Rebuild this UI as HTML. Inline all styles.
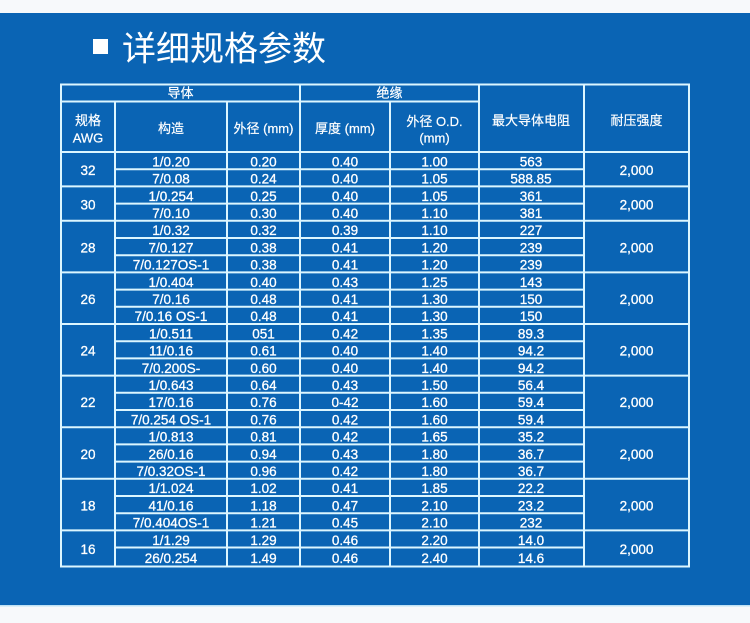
<!DOCTYPE html>
<html>
<head>
<meta charset="utf-8">
<style>
html,body{margin:0;padding:0;background:#f7f9fb;}
svg{display:block;}
.t{fill:#fff;stroke:#fff;stroke-width:0.3px;font-family:"Liberation Sans","Noto Sans CJK SC",sans-serif;font-size:13.5px;text-anchor:middle;}
.h{fill:#fff;stroke:#fff;stroke-width:0.2px;font-family:"Liberation Sans","Noto Sans CJK SC",sans-serif;font-size:13px;text-anchor:middle;}
</style>
</head>
<body>
<svg width="750" height="623" viewBox="0 0 750 623" xmlns="http://www.w3.org/2000/svg">
<rect x="0" y="0" width="750" height="623" fill="#f7f9fb"/>
<rect x="0" y="13" width="750" height="593" fill="#0a64b4"/>
<rect x="0" y="605" width="750" height="1.5" fill="#bfe2f5"/>
<rect x="93" y="39" width="15" height="15" fill="#fff"/>
<text x="122" y="60.5" fill="#fff" style="font-family:'Noto Sans CJK SC',sans-serif;font-size:34px;">详细规格参数</text>

<g stroke="#dcf6ff" stroke-width="2" fill="none">
<rect x="61" y="84.5" width="628" height="482"/>
<path d="M61 101.5H479 M61 152H689
M61 186.4H689 M61 220.8H689 M61 272.4H689 M61 324H689 M61 375.6H689 M61 427.2H689 M61 478.8H689 M61 530.4H689
M115 169.2H584 M115 203.6H584 M115 238H584 M115 255.2H584 M115 289.6H584 M115 306.8H584 M115 341.2H584 M115 358.4H584 M115 392.8H584 M115 410H584 M115 444.4H584 M115 461.6H584 M115 496H584 M115 513.2H584 M115 547.5H584
M115 101.5V566.5 M227 101.5V566.5 M300 84.5V566.5 M390 101.5V566.5 M479 84.5V566.5 M584 84.5V566.5"/>
</g>

<!-- headers -->
<text class="h" x="180.5" y="97.5">导体</text>
<text class="h" x="389.5" y="97.5">绝缘</text>
<text class="h" x="88" y="125">规格</text>
<text class="h" x="88" y="142.4">AWG</text>
<text class="h" x="171" y="133">构造</text>
<text class="h" x="263.5" y="133">外径 (mm)</text>
<text class="h" x="345" y="133">厚度 (mm)</text>
<text class="h" x="434.5" y="126">外径 O.D.</text>
<text class="h" x="434.5" y="142.4">(mm)</text>
<text class="h" x="531" y="125">最大导体电阻</text>
<text class="h" x="636.5" y="125">耐压强度</text>

<!-- group labels -->
<text class="t" x="88" y="175">32</text><text class="t" x="636.5" y="175">2,000</text>
<text class="t" x="88" y="209.4">30</text><text class="t" x="636.5" y="209.4">2,000</text>
<text class="t" x="88" y="252.4">28</text><text class="t" x="636.5" y="252.4">2,000</text>
<text class="t" x="88" y="304">26</text><text class="t" x="636.5" y="304">2,000</text>
<text class="t" x="88" y="355.6">24</text><text class="t" x="636.5" y="355.6">2,000</text>
<text class="t" x="88" y="407.2">22</text><text class="t" x="636.5" y="407.2">2,000</text>
<text class="t" x="88" y="458.8">20</text><text class="t" x="636.5" y="458.8">2,000</text>
<text class="t" x="88" y="510.4">18</text><text class="t" x="636.5" y="510.4">2,000</text>
<text class="t" x="88" y="554.2">16</text><text class="t" x="636.5" y="554.2">2,000</text>

<!-- rows -->
<text class="t" x="171" y="166.4">1/0.20</text><text class="t" x="263.5" y="166.4">0.20</text><text class="t" x="345" y="166.4">0.40</text><text class="t" x="434.5" y="166.4">1.00</text><text class="t" x="531" y="166.4">563</text>
<text class="t" x="171" y="183.6">7/0.08</text><text class="t" x="263.5" y="183.6">0.24</text><text class="t" x="345" y="183.6">0.40</text><text class="t" x="434.5" y="183.6">1.05</text><text class="t" x="531" y="183.6">588.85</text>
<text class="t" x="171" y="200.8">1/0.254</text><text class="t" x="263.5" y="200.8">0.25</text><text class="t" x="345" y="200.8">0.40</text><text class="t" x="434.5" y="200.8">1.05</text><text class="t" x="531" y="200.8">361</text>
<text class="t" x="171" y="218">7/0.10</text><text class="t" x="263.5" y="218">0.30</text><text class="t" x="345" y="218">0.40</text><text class="t" x="434.5" y="218">1.10</text><text class="t" x="531" y="218">381</text>
<text class="t" x="171" y="235.2">1/0.32</text><text class="t" x="263.5" y="235.2">0.32</text><text class="t" x="345" y="235.2">0.39</text><text class="t" x="434.5" y="235.2">1.10</text><text class="t" x="531" y="235.2">227</text>
<text class="t" x="171" y="252.4">7/0.127</text><text class="t" x="263.5" y="252.4">0.38</text><text class="t" x="345" y="252.4">0.41</text><text class="t" x="434.5" y="252.4">1.20</text><text class="t" x="531" y="252.4">239</text>
<text class="t" x="171" y="269.6">7/0.127OS-1</text><text class="t" x="263.5" y="269.6">0.38</text><text class="t" x="345" y="269.6">0.41</text><text class="t" x="434.5" y="269.6">1.20</text><text class="t" x="531" y="269.6">239</text>
<text class="t" x="171" y="286.8">1/0.404</text><text class="t" x="263.5" y="286.8">0.40</text><text class="t" x="345" y="286.8">0.43</text><text class="t" x="434.5" y="286.8">1.25</text><text class="t" x="531" y="286.8">143</text>
<text class="t" x="171" y="304">7/0.16</text><text class="t" x="263.5" y="304">0.48</text><text class="t" x="345" y="304">0.41</text><text class="t" x="434.5" y="304">1.30</text><text class="t" x="531" y="304">150</text>
<text class="t" x="171" y="321.2">7/0.16 OS-1</text><text class="t" x="263.5" y="321.2">0.48</text><text class="t" x="345" y="321.2">0.41</text><text class="t" x="434.5" y="321.2">1.30</text><text class="t" x="531" y="321.2">150</text>
<text class="t" x="171" y="338.4">1/0.511</text><text class="t" x="263.5" y="338.4">051</text><text class="t" x="345" y="338.4">0.42</text><text class="t" x="434.5" y="338.4">1.35</text><text class="t" x="531" y="338.4">89.3</text>
<text class="t" x="171" y="355.6">11/0.16</text><text class="t" x="263.5" y="355.6">0.61</text><text class="t" x="345" y="355.6">0.40</text><text class="t" x="434.5" y="355.6">1.40</text><text class="t" x="531" y="355.6">94.2</text>
<text class="t" x="171" y="372.8">7/0.200S-</text><text class="t" x="263.5" y="372.8">0.60</text><text class="t" x="345" y="372.8">0.40</text><text class="t" x="434.5" y="372.8">1.40</text><text class="t" x="531" y="372.8">94.2</text>
<text class="t" x="171" y="390">1/0.643</text><text class="t" x="263.5" y="390">0.64</text><text class="t" x="345" y="390">0.43</text><text class="t" x="434.5" y="390">1.50</text><text class="t" x="531" y="390">56.4</text>
<text class="t" x="171" y="407.2">17/0.16</text><text class="t" x="263.5" y="407.2">0.76</text><text class="t" x="345" y="407.2">0-42</text><text class="t" x="434.5" y="407.2">1.60</text><text class="t" x="531" y="407.2">59.4</text>
<text class="t" x="171" y="424.4">7/0.254 OS-1</text><text class="t" x="263.5" y="424.4">0.76</text><text class="t" x="345" y="424.4">0.42</text><text class="t" x="434.5" y="424.4">1.60</text><text class="t" x="531" y="424.4">59.4</text>
<text class="t" x="171" y="441.6">1/0.813</text><text class="t" x="263.5" y="441.6">0.81</text><text class="t" x="345" y="441.6">0.42</text><text class="t" x="434.5" y="441.6">1.65</text><text class="t" x="531" y="441.6">35.2</text>
<text class="t" x="171" y="458.8">26/0.16</text><text class="t" x="263.5" y="458.8">0.94</text><text class="t" x="345" y="458.8">0.43</text><text class="t" x="434.5" y="458.8">1.80</text><text class="t" x="531" y="458.8">36.7</text>
<text class="t" x="171" y="476">7/0.32OS-1</text><text class="t" x="263.5" y="476">0.96</text><text class="t" x="345" y="476">0.42</text><text class="t" x="434.5" y="476">1.80</text><text class="t" x="531" y="476">36.7</text>
<text class="t" x="171" y="493.2">1/1.024</text><text class="t" x="263.5" y="493.2">1.02</text><text class="t" x="345" y="493.2">0.41</text><text class="t" x="434.5" y="493.2">1.85</text><text class="t" x="531" y="493.2">22.2</text>
<text class="t" x="171" y="510.4">41/0.16</text><text class="t" x="263.5" y="510.4">1.18</text><text class="t" x="345" y="510.4">0.47</text><text class="t" x="434.5" y="510.4">2.10</text><text class="t" x="531" y="510.4">23.2</text>
<text class="t" x="171" y="527.6">7/0.404OS-1</text><text class="t" x="263.5" y="527.6">1.21</text><text class="t" x="345" y="527.6">0.45</text><text class="t" x="434.5" y="527.6">2.10</text><text class="t" x="531" y="527.6">232</text>
<text class="t" x="171" y="544.8">1/1.29</text><text class="t" x="263.5" y="544.8">1.29</text><text class="t" x="345" y="544.8">0.46</text><text class="t" x="434.5" y="544.8">2.20</text><text class="t" x="531" y="544.8">14.0</text>
<text class="t" x="171" y="562.8">26/0.254</text><text class="t" x="263.5" y="562.8">1.49</text><text class="t" x="345" y="562.8">0.46</text><text class="t" x="434.5" y="562.8">2.40</text><text class="t" x="531" y="562.8">14.6</text>
</svg>
</body>
</html>
